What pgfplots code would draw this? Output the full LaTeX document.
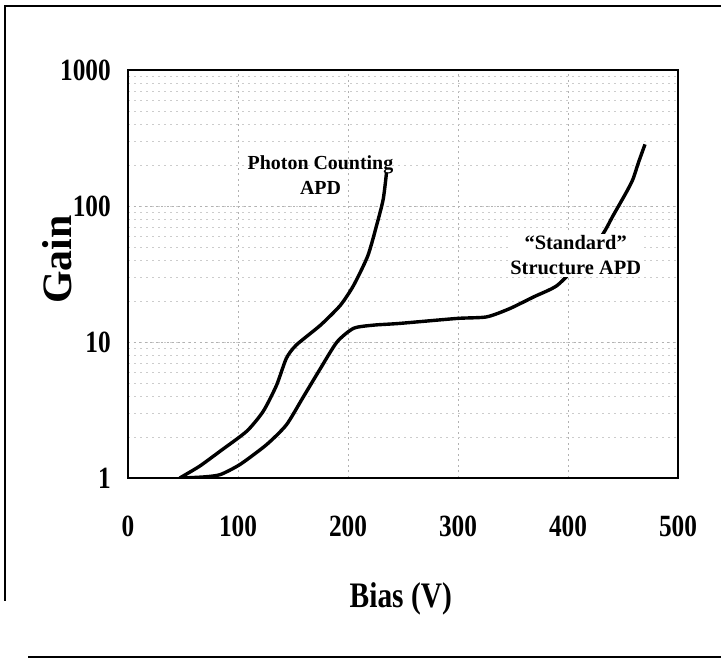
\documentclass[border=0pt]{standalone}
\usepackage{fontspec}
\setmainfont{Liberation Serif}
\newfontfamily\condfont[FakeStretch=0.82]{Liberation Serif}
\usepackage{pgfplots}
\pgfplotsset{compat=1.18}

\begin{document}
\begin{tikzpicture}
\useasboundingbox (0,0) rectangle (721bp,663bp);
% scanned page frame
\draw[line width=1.8bp] (721bp,657bp) -- (5bp,657bp) -- (5bp,62bp);
\draw[line width=1.8bp] (28bp,6bp) -- (721bp,6bp);

\begin{axis}[
  at={(128bp,185bp)}, anchor=south west,
  scale only axis, width=550bp, height=408bp,
  xmin=0, xmax=500, ymode=log, ymin=1, ymax=1000,
  xtick={0,100,200,300,400,500}, xticklabels={0,100,200,300,400,500},
  ytick={1,10,100,1000}, yticklabels={1,10,100,1000},
  minor x tick num=0,
  major tick length=0pt, minor tick length=0pt,
  tick label style={font=\condfont\fontsize{31}{31}\selectfont\bfseries, inner sep=0pt},
  xticklabel style={anchor=north, yshift=-38bp},
  yticklabel style={anchor=east, xshift=-17bp},
  axis line style={line width=2bp},
  grid=both,
  major grid style={gray!60, line width=0.6bp, dash pattern=on 2bp off 3.5bp},
  minor grid style={gray!40, line width=0.5bp, dash pattern=on 1.5bp off 4.5bp},
  xlabel={Bias (V)},
  xlabel style={font=\condfont\fontsize{36}{36}\selectfont\bfseries, at={(axis description cs:0.496,-0.296)}, anchor=center},
  ylabel={Gain},
  ylabel style={font=\fontsize{42}{42}\selectfont\bfseries, at={(axis description cs:-0.129,0.535)}, anchor=center},
]
% Photon Counting APD
\addplot[black, no marks, line width=3.4bp, smooth, tension=0.4] coordinates {
  (47,1) (65,1.22) (84,1.58) (108,2.21) (123,3.1) (135,4.8) (144,7.6)
  (153,9.5) (175,13.3) (193,18.6) (205,26) (218,43) (226,72) (232,112) (235,176)
};
% "Standard" Structure APD
\addplot[black, no marks, line width=3.4bp, smooth, tension=0.4] coordinates {
  (50,1) (70,1.02) (84,1.06) (102,1.26) (126,1.76) (144,2.46) (159,3.9)
  (175,6.4) (190,10) (205,12.6) (223,13.3) (247,13.7) (299,14.9) (326,15.3)
  (347,17.6) (369,21.5) (390,26) (410,38) (431,61) (441,85) (453,126)
  (459,157) (464,208) (470,284)
};
\node[align=center, font=\fontsize{20}{25}\selectfont\bfseries] at (axis cs:175,170) {Photon Counting\\APD};
\node[align=center, fill=white, inner sep=2bp, font=\fontsize{20.5}{25}\selectfont\bfseries] at (axis cs:407,43.5) {“Standard”\\Structure APD};
\end{axis}
\end{tikzpicture}
\end{document}
